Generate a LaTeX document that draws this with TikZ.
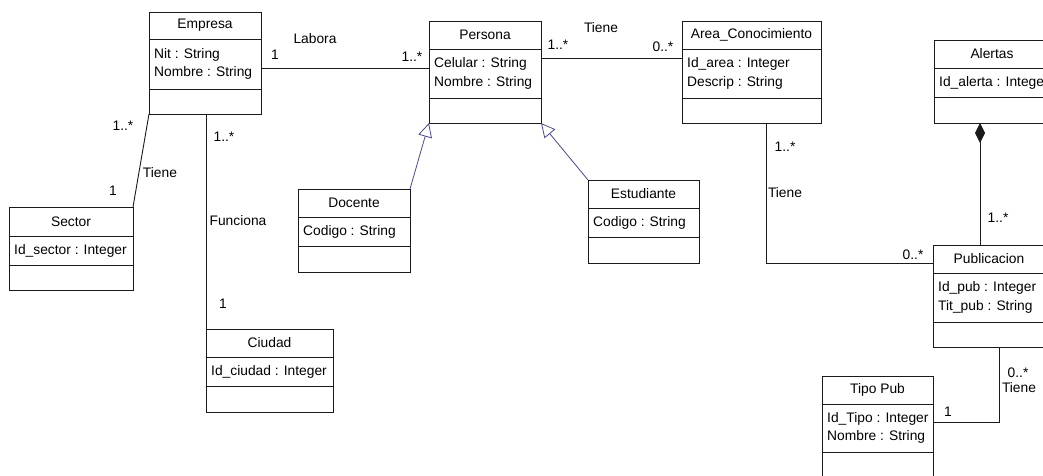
\documentclass[tikz,border=0pt]{standalone}
\usepackage{fontspec}
\setmainfont{Liberation Sans}
\usetikzlibrary{arrows.meta,calc}
\definecolor{UmlLine}{HTML}{1A1A1A}
\definecolor{UmlGen}{HTML}{4A4A8C}

% name, x, y, width, title height, attribute height, operation height, title, attributes
\newcommand{\umlclass}[9]{%
  \node[cls, minimum width=#4pt, minimum height=#5pt, anchor=north west] (#1) at (#2,#3) {#8};
  \node[cls, minimum width=#4pt, minimum height=#6pt, anchor=north] (#1-attr) at (#1.south) {};
  \node[cls, minimum width=#4pt, minimum height=#7pt, anchor=north] (#1-op) at (#1-attr.south) {};
  \node[lbl, anchor=west, align=left] (#1-txt) at ([xshift=1pt]#1-attr.west) {#9};
}

\begin{document}
\begin{tikzpicture}[
        x=1pt, y=-1pt,
        font=\fontsize{13.8}{18.5}\selectfont,
        cls/.style={draw=UmlLine, fill=white, line width=0.9pt, inner sep=0pt, outer sep=0pt},
        lbl/.style={inner xsep=4pt, inner ysep=1pt},
        assoc/.style={draw=UmlLine, line width=0.9pt},
        inherit/.style={draw=UmlGen, line width=0.8pt, -{Triangle[open, fill=white, length=14pt, width=14pt]}},
        compose/.style={draw=UmlLine, line width=0.9pt, {Diamond[length=20pt, width=10pt]}-}
    ]
        \useasboundingbox (0,0) rectangle (1043,475);
        \fill[white] (0,0) rectangle (1043,475);
        \clip (0,0) rectangle (1043,475);

        % Classes
        \umlclass{empresa}{149}{12}{112}{27}{50}{25}{Empresa}{Nit : String\\Nombre : String}
        \umlclass{persona}{429}{21}{112}{28}{49}{25}{Persona}{Celular : String\\Nombre : String}
        \umlclass{area}{682}{21}{139}{28}{49}{25}{Area\_Conocimiento}{Id\_area : Integer\\Descrip : String}
        \umlclass{sector}{9}{207}{124}{29}{29}{25}{Sector}{Id\_sector : Integer}
        \umlclass{docente}{298}{189}{112}{28}{29}{26}{Docente}{Codigo : String}
        \umlclass{estudiante}{588}{180}{111}{28}{29}{26}{Estudiante}{Codigo : String}
        \umlclass{ciudad}{206}{329}{127}{28}{29}{26}{Ciudad}{Id\_ciudad : Integer}
        \umlclass{alertas}{934}{40}{116}{28}{29}{26}{Alertas}{Id\_alerta : Integer}
        \umlclass{publicacion}{933}{245}{112}{28}{49}{25}{Publicacion}{Id\_pub : Integer\\Tit\_pub : String}
        \umlclass{tipopub}{822}{376}{111}{28}{48}{28}{Tipo Pub}{Id\_Tipo : Integer\\Nombre : String}

        % Connections
        \draw[assoc] ([yshift=-4pt]empresa-attr.east) -- ([yshift=-4pt]empresa-attr.east -| persona.west);
        \draw[assoc] ([yshift=-9pt]persona-attr.north east) -- ([yshift=-9pt]persona-attr.north east -| area.west);
        \draw[assoc] (empresa-op.south west) -- (sector.north east);
        \draw[assoc] (ciudad.north west |- empresa-op.south) -- (ciudad.north west);
        \draw[assoc] ([xshift=14.5pt]area-op.south) |- ([yshift=-4pt]publicacion.west);
        \draw[compose] ([xshift=-12pt]alertas-op.south) -- ([xshift=-12pt]alertas-op.south |- publicacion.north);
        \draw[assoc] ([xshift=10pt]publicacion-op.south) |- ([yshift=6pt]tipopub-attr.east);
        \draw[inherit] (docente.north east) -- (persona-op.south west);
        \draw[inherit] (estudiante.north west) -- (persona-op.south east);

        % Labels
        \node[lbl] (labora) at (315,39) {Labora};
        \node[lbl] (labora-a) at (275,55) {1};
        \node[lbl] (labora-b) at (412,57) {1..*};
        \node[lbl] (tiene1) at (601,28) {Tiene};
        \node[lbl] (tiene1-a) at (558,45) {1..*};
        \node[lbl] (tiene1-b) at (663,47) {0..*};
        \node[lbl] (tiene2) at (160,173) {Tiene};
        \node[lbl] (tiene2-a) at (123,126) {1..*};
        \node[lbl] (tiene2-b) at (113,191) {1};
        \node[lbl] (funciona) at (238,221) {Funciona};
        \node[lbl] (funciona-a) at (224,137) {1..*};
        \node[lbl] (funciona-b) at (223,304) {1};
        \node[lbl] (tiene3) at (785,193) {Tiene};
        \node[lbl] (tiene3-a) at (785,147) {1..*};
        \node[lbl] (tiene3-b) at (913,255) {0..*};
        \node[lbl] (alertas-m) at (998,218) {1..*};
        \node[lbl] (tiene4) at (1019,388) {Tiene};
        \node[lbl] (tiene4-a) at (1018,373) {0..*};
        \node[lbl] (tiene4-b) at (948,412) {1};
\end{tikzpicture}
\end{document}
